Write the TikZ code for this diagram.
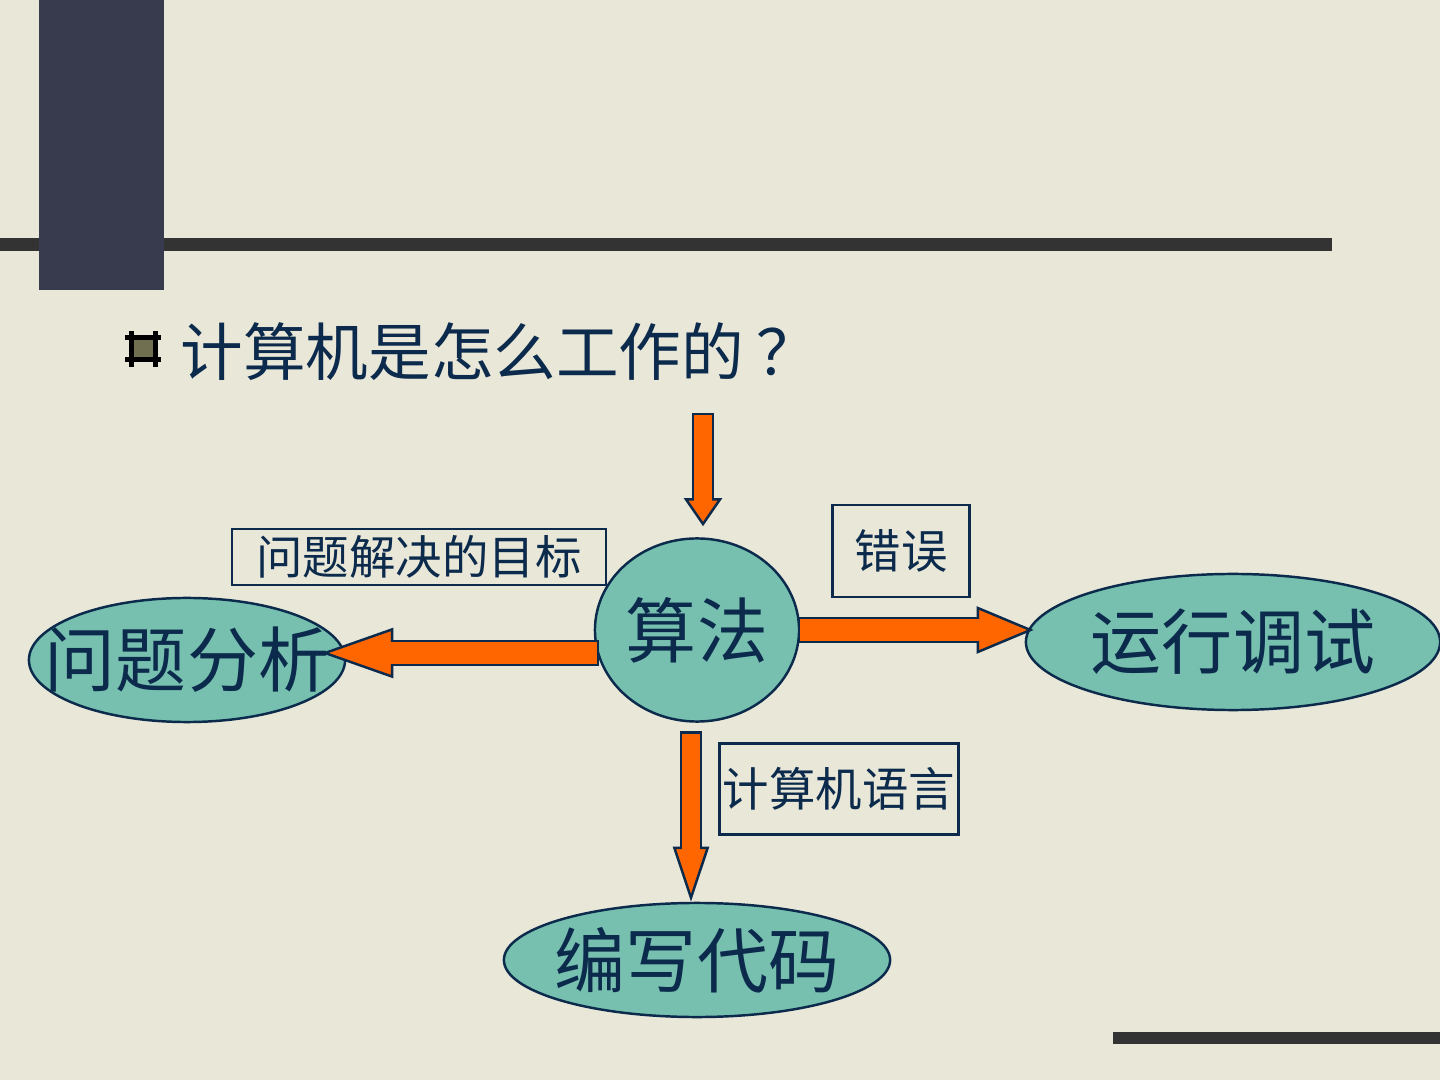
\documentclass[tikz,border=0pt]{standalone}
\usepackage{fontspec}
\setmainfont{Noto Sans CJK SC}
\usetikzlibrary{shapes.geometric, arrows.meta, positioning, calc}
\definecolor{slidebg}{HTML}{E8E7D8}
\definecolor{slidebar}{HTML}{333333}
\definecolor{slideblock}{HTML}{383B4E}
\definecolor{inknavy}{HTML}{0B2A4C}
\definecolor{bubbleteal}{HTML}{77C0B0}
\definecolor{arroworange}{HTML}{FF6600}
\definecolor{bulletolive}{HTML}{707050}
\tikzset{
  bubble/.style={
    ellipse, draw=inknavy, line width=0.7pt, fill=bubbleteal, inner sep=0pt
  },
  bubbletext/.style={
    text=inknavy, font=\fontsize{20.2pt}{24pt}\selectfont, inner sep=0pt
  },
  tagbox/.style={
    draw=inknavy, line width=0.7pt, text=inknavy, align=center,
    font=\fontsize{13.2pt}{16pt}\selectfont, inner sep=0pt
  },
  titletext/.style={
    text=inknavy, font=\fontsize{17.8pt}{21pt}\selectfont, inner sep=0pt
  },
  % shaft width, head width, head length
  fatarrow/.style n args={3}{
    draw=arroworange, line width=#1,
    -{Triangle[length=#3, width=#2, line width=0.7pt, fill=arroworange, color=inknavy]},
    preaction={draw=inknavy, line width=#1+1.4pt, arrows=-,
      shorten >=#3-1pt, shorten <=-0.7pt},
    postaction={draw=arroworange, line width=#1, arrows=-,
      shorten >=#3-1.5pt}
  },
}

\begin{document}
\begin{tikzpicture}[x=0.01cm, y=-0.01cm]
  \useasboundingbox (0,0) rectangle (1440,1080);
  % ── Slide background ──
  \fill[slidebg] (0,0) rectangle (1440,1080);
  \fill[slidebar] (0,238) rectangle (1332,251);
  \fill[slideblock] (39,0) rectangle (164,290);
  \fill[slidebar] (1113,1032) rectangle (1440,1044);

  % ── Title ──
  \fill[bulletolive] (131,338) rectangle (155,360);
  \draw[black, line width=0.05cm]
    (125,338) -- (161,338) (125,360) -- (161,360)
    (131,331) -- (131,367) (155,331) -- (155,367);
  \node[titletext, anchor=west] (title) at (180,352) {计算机是怎么工作的\kern0.2em ？};

  % ── Bubbles ──
  \node[bubble, minimum width=2.04cm, minimum height=1.83cm,
    label={[bubbletext]center:算法}] (alg) at (697,630) {};
  \node[bubble, minimum width=3.16cm, minimum height=1.24cm,
    label={[bubbletext]center:问题分析}] (ana) at (187,660) {};
  \node[bubble, minimum width=4.14cm, minimum height=1.36cm,
    label={[bubbletext]center:运行调试}] (run) at (1233,642) {};
  \node[bubble, minimum width=3.86cm, minimum height=1.14cm,
    label={[bubbletext]center:编写代码}] (code) at (697,960) {};

  % ── Tags ──
  \node[tagbox, minimum width=3.74cm, minimum height=0.56cm] (goal)
    at (419,557) {问题解决的目标};
  \node[tagbox, minimum width=1.37cm, minimum height=0.92cm] (err)
    at (901,551) {错误};
  \node[tagbox, minimum width=2.39cm, minimum height=0.91cm] (lang)
    at (839,789) {计算机语言};

  % ── Arrows ──
  \coordinate (input) at (703,415);
  \draw[fatarrow={0.18cm}{0.38cm}{0.28cm}] (input) -- ($(alg.north)+(6,-11)$);
  \draw[fatarrow={0.22cm}{0.50cm}{0.72cm}] ($(alg.west)+(3,23)$) -- ($(ana.east)+(-25,-7)$);
  \draw[fatarrow={0.22cm}{0.47cm}{0.57cm}] (alg.east) -- ($(run.west)+(9,-12)$);
  \draw[fatarrow={0.18cm}{0.36cm}{0.55cm}] ($(alg.south)+(-6,11)$) -- ($(code.north)+(-6,0)$);
\end{tikzpicture}
\end{document}
